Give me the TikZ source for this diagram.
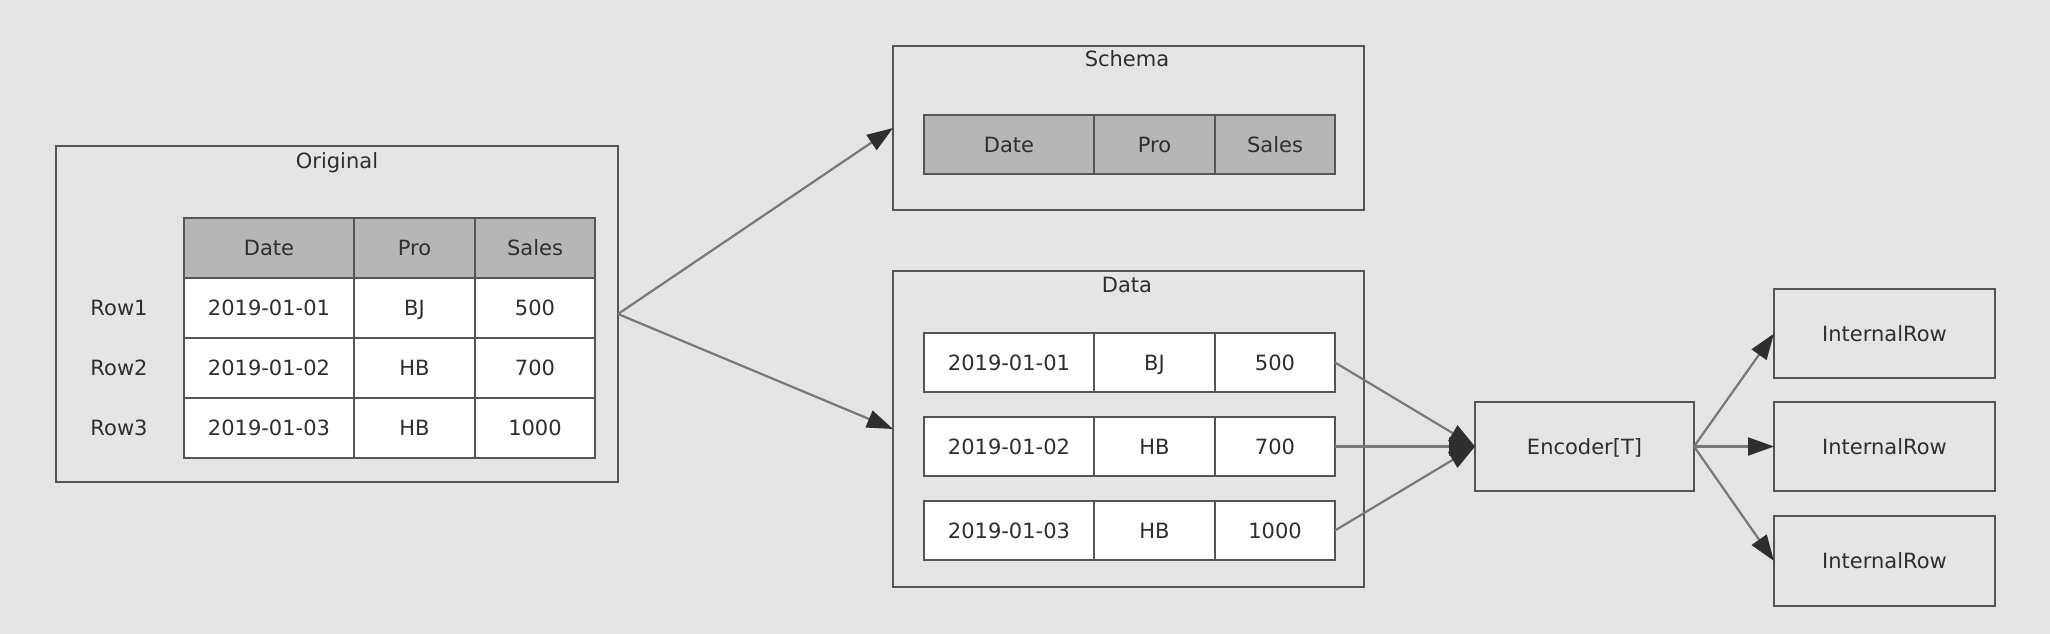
\documentclass[tikz,border=0pt]{standalone}
\usepackage{fontspec}
\setmainfont{DejaVu Sans}
\usetikzlibrary{arrows.meta}
\definecolor{bg}{HTML}{E5E5E5}
\definecolor{bd}{HTML}{555555}
\definecolor{hd}{HTML}{B6B6B6}
\definecolor{tx}{HTML}{2E2E2E}
\definecolor{ln}{HTML}{777777}
\begin{document}
\begin{tikzpicture}[x=1pt,y=-1pt,
  font=\fontsize{21}{25}\selectfont, text=tx,
  every node/.style={text height=15.3pt, text depth=0pt},
  frame/.style={draw=bd, line width=2.8pt, inner sep=0pt, outer sep=0pt, anchor=north west},
  cell/.style={draw=bd, line width=2.8pt, fill=white, minimum height=60pt, inner sep=0pt, outer sep=0pt, anchor=north west},
  head/.style={cell, fill=hd},
  wA/.style={minimum width=170pt},
  wB/.style={minimum width=121pt},
  wC/.style={minimum width=120pt},
  lbl/.style={inner sep=0pt},
  conn/.style={draw=ln, line width=2.2pt, -{Triangle[length=26pt,width=18pt,color=tx]}}]
\fill[bg] (0,0) rectangle (2050,634);
\useasboundingbox (0,0) rectangle (2050,634);

% Original
\node[frame, minimum width=562pt, minimum height=336pt] (orig) at (56,146) {};
\node[lbl] (origt) at (337,161) {Original};
\node[head,wA] (oh1) at (184,218) {Date};
\node[head,wB] (oh2) at (354,218) {Pro};
\node[head,wC] (oh3) at (475,218) {Sales};
\node[cell,wA] (o11) at (184,278) {2019-01-01};
\node[cell,wB] (o12) at (354,278) {BJ};
\node[cell,wC] (o13) at (475,278) {500};
\node[cell,wA] (o21) at (184,338) {2019-01-02};
\node[cell,wB] (o22) at (354,338) {HB};
\node[cell,wC] (o23) at (475,338) {700};
\node[cell,wA] (o31) at (184,398) {2019-01-03};
\node[cell,wB] (o32) at (354,398) {HB};
\node[cell,wC] (o33) at (475,398) {1000};
\node[lbl] (r1) at (119,308) {Row1};
\node[lbl] (r2) at (119,368) {Row2};
\node[lbl] (r3) at (119,428) {Row3};

% Schema
\node[frame, minimum width=471pt, minimum height=164pt] (schema) at (893,46) {};
\node[lbl] (schemat) at (1127,59) {Schema};
\node[head,wA,minimum height=59pt] (s1) at (924,115) {Date};
\node[head,wB,minimum height=59pt] (s2) at (1094,115) {Pro};
\node[head,wC,minimum height=59pt] (s3) at (1215,115) {Sales};

% Data
\node[frame, minimum width=471pt, minimum height=316pt] (data) at (893,271) {};
\node[lbl] (datat) at (1127,285) {Data};
\node[cell,wA,minimum height=59pt] (d11) at (924,333) {2019-01-01};
\node[cell,wB,minimum height=59pt] (d12) at (1094,333) {BJ};
\node[cell,wC,minimum height=59pt] (d13) at (1215,333) {500};
\node[cell,wA,minimum height=59pt] (d21) at (924,417) {2019-01-02};
\node[cell,wB,minimum height=59pt] (d22) at (1094,417) {HB};
\node[cell,wC,minimum height=59pt] (d23) at (1215,417) {700};
\node[cell,wA,minimum height=59pt] (d31) at (924,501) {2019-01-03};
\node[cell,wB,minimum height=59pt] (d32) at (1094,501) {HB};
\node[cell,wC,minimum height=59pt] (d33) at (1215,501) {1000};

% Encoder and rows
\node[frame, minimum width=219pt, minimum height=89pt] (enc) at (1475,402) {Encoder[T]};
\node[frame, minimum width=221pt, minimum height=89pt] (ir1) at (1774,289) {InternalRow};
\node[frame, minimum width=221pt, minimum height=89pt] (ir2) at (1774,402) {InternalRow};
\node[frame, minimum width=221pt, minimum height=90pt] (ir3) at (1774,516) {InternalRow};

% Connectors
\draw[conn] (orig.east) -- (schema.west);
\draw[conn] (orig.east) -- (data.west);
\draw[conn] (d13.east) -- (enc.west);
\draw[conn] (d23.east) -- (enc.west);
\draw[conn] (d33.east) -- (enc.west);
\draw[conn] (enc.east) -- (ir1.west);
\draw[conn] (enc.east) -- (ir2.west);
\draw[conn] (enc.east) -- (ir3.west);
\end{tikzpicture}
\end{document}
